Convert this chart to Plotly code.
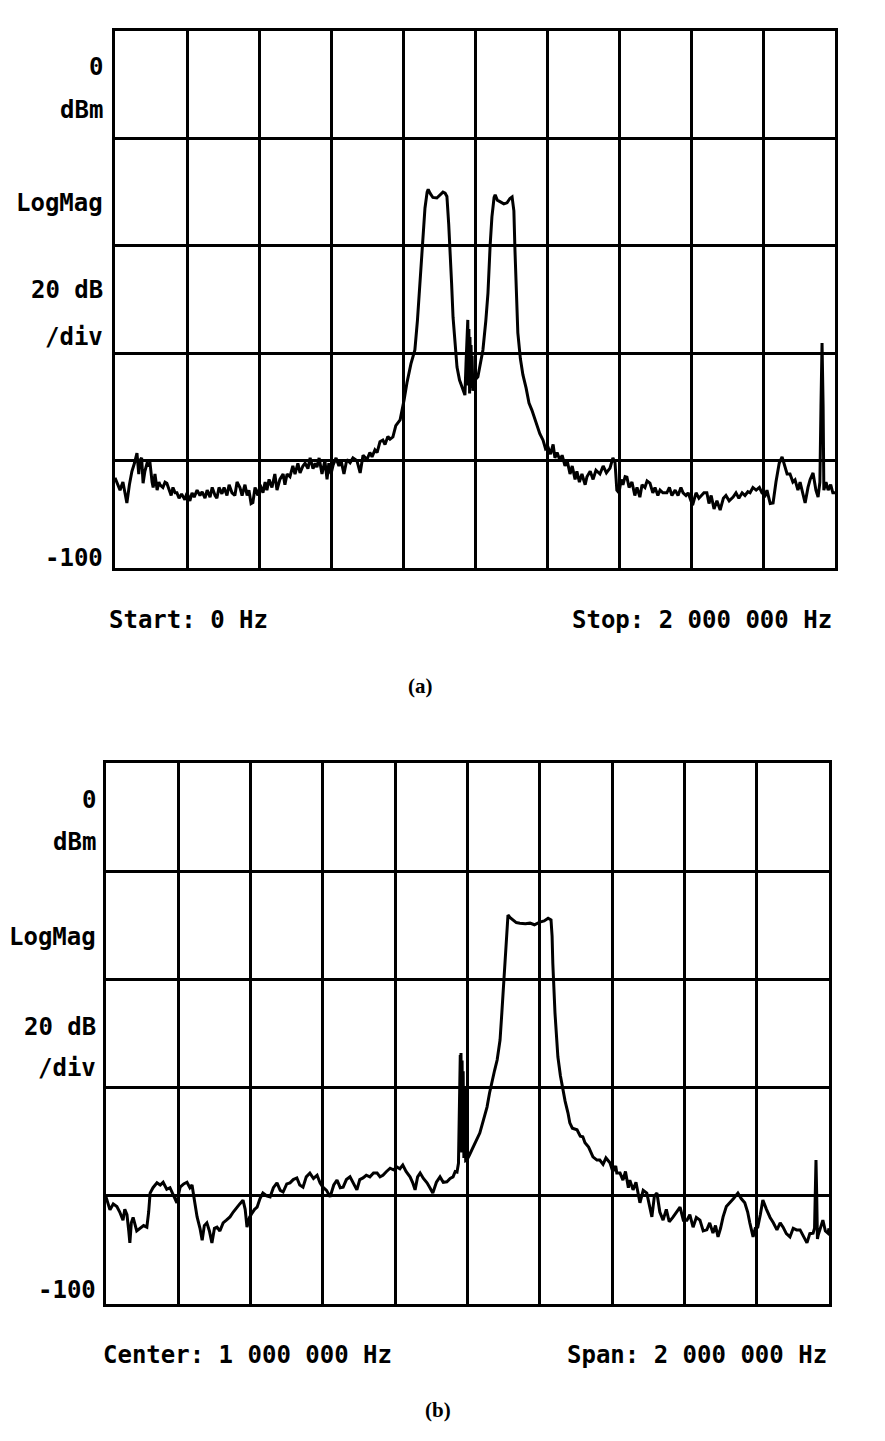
import plotly.graph_objects as go

# ---------------- Data (frequency in kHz, level in dBm) ----------------
freq_a = [0, 8, 14, 22, 33, 40, 47, 54, 61, 66, 69, 74, 78, 83, 89, 94, 97, 103, 106, 111,
          117, 122, 125, 133, 139, 144, 150, 156, 161, 167, 172, 178, 185, 194, 200, 208, 214,
          220, 228, 236, 242, 250, 256, 264, 270, 278, 283, 289, 297, 303, 311, 317, 325, 333,
          339, 347, 353, 361, 367, 372, 378, 383, 389, 397, 403, 411, 417, 422, 428, 436, 444,
          450, 458, 467, 472, 478, 486, 494, 500, 508, 514, 522, 528, 536, 542, 550, 556, 561,
          567, 575, 583, 589, 594, 600, 606, 614, 622, 628, 636, 644, 653, 661, 672, 681, 689,
          700, 708, 714, 722, 728, 736, 744, 750, 758, 764, 772, 780, 792, 803,
          811, 822, 833, 840, 847, 852, 856, 861, 867, 870, 875, 883, 894, 903, 911, 917, 922,
          927, 931, 935, 939, 944, 950, 957, 964, 972,
          975, 978, 980, 981, 983, 985, 986, 988, 989, 991, 992, 994, 997, 1000,
          1008, 1015, 1022, 1030, 1036, 1042, 1047, 1053, 1056, 1062, 1069, 1080, 1089, 1097,
          1103, 1108, 1111, 1116, 1119, 1126, 1133, 1142, 1150, 1158, 1165, 1172, 1180, 1189,
          1196, 1203, 1210, 1217, 1222, 1228, 1236, 1242, 1250, 1256, 1264, 1270, 1278, 1283,
          1290, 1297, 1306, 1311, 1320, 1328, 1336, 1347, 1356, 1365, 1375, 1383, 1389, 1394,
          1400, 1406, 1411, 1417, 1422, 1428, 1436, 1444, 1450, 1458, 1464, 1472, 1478, 1486,
          1494, 1500, 1508, 1514, 1522, 1533, 1540, 1547, 1556, 1564, 1572, 1578, 1586, 1592,
          1600, 1606, 1614, 1622, 1630, 1636, 1644, 1650, 1656, 1664, 1672, 1681, 1690, 1697,
          1706, 1717, 1725, 1733, 1742, 1750, 1758, 1764, 1772, 1781, 1790, 1797, 1806, 1811,
          1820, 1828, 1836, 1845, 1853, 1860, 1867, 1875, 1883, 1889, 1897, 1903, 1911, 1917,
          1925, 1931, 1939, 1947, 1953, 1958, 1961, 1964, 1967, 1969, 1975, 1981, 1988, 1994, 2000]
level_a = [-83.2, -84.5, -85.5, -84.0, -87.9, -84.5, -82.0, -80.5, -78.6, -82.5, -80.0, -79.5,
           -84.2, -82.0, -80.5, -80.8, -80.3, -84.0, -85.0, -82.5,
           -85.5, -84.0, -84.5, -85.0, -84.0, -84.2, -85.5, -86.5, -85.0, -86.0, -86.0, -87.0,
           -86.2, -87.3, -86.0, -87.5, -86.0,
           -86.8, -85.5, -86.5, -85.8, -87.0, -85.5, -86.8, -85.0, -86.5, -87.0, -85.0, -86.2,
           -85.0, -86.5, -84.5, -86.0, -86.5,
           -84.0, -85.0, -86.5, -84.5, -86.5, -85.5, -88.0, -87.8, -85.0, -86.5, -84.5, -86.0,
           -84.0, -85.5, -83.5, -85.0, -82.5,
           -85.5, -83.5, -82.5, -84.5, -82.5, -83.0, -81.0, -82.5, -80.5, -82.3, -81.0, -80.5,
           -81.5, -79.5, -81.5, -80.5, -81.2,
           -79.5, -82.5, -80.0, -83.5, -80.5, -82.5, -80.8, -79.5, -81.0, -80.0, -82.5, -79.8,
           -80.4, -79.5, -80.0, -82.3, -79.0,
           -79.8, -78.5, -79.3, -78.0, -78.5, -76.5, -76.2, -77.0, -75.5, -76.0, -75.6, -73.5,
           -72.4, -68.7,
           -65.5, -62.0, -59.4, -54.0, -46.9, -42.0, -37.6, -33.0, -30.0, -29.5, -30.2, -31.0,
           -31.1, -30.5, -30.0, -30.2, -30.8,
           -36.0, -40.8, -47.0, -53.3, -58.5, -62.6, -65.0, -66.3, -67.8,
           -62.0, -56.0, -53.8, -66.0, -55.5, -67.5, -57.0, -66.5, -58.5, -65.5, -60.5, -67.0,
           -65.5, -65.0,
           -64.4, -62.0, -59.4, -54.0, -48.8, -40.0, -34.6, -31.0, -30.5, -31.5, -31.8, -32.2,
           -32.0, -31.2,
           -30.9, -33.5, -40.8, -50.0, -56.2, -61.0, -64.0, -66.5, -69.3, -70.6, -72.0, -73.0,
           -75.0, -76.2,
           -77.8, -77.5, -78.8, -77.0, -79.5, -78.5, -80.0, -79.0, -81.0, -80.0, -82.5, -81.0,
           -83.5, -82.0,
           -84.0, -82.5, -84.5, -83.0, -82.0, -83.5, -81.8, -82.5, -81.0, -82.3, -81.4, -79.5,
           -80.4, -85.5,
           -86.0, -83.5, -84.5, -83.0, -83.1, -85.0, -84.0, -86.5, -85.0, -86.8, -84.5, -85.0,
           -83.8, -84.2,
           -86.0, -85.0, -86.5, -85.5, -86.0, -86.0, -85.0, -86.5, -85.5, -86.5, -85.0, -86.0,
           -86.5, -86.0,
           -87.5, -87.9, -86.0, -87.0, -86.5, -86.0, -86.0, -88.0, -86.5, -89.0, -87.5, -89.2,
           -87.0, -86.5,
           -87.5, -86.8, -86.0, -87.0, -86.0, -86.5, -85.8, -86.0, -85.0, -85.5, -85.0, -86.0,
           -86.5, -85.5,
           -88.0, -87.9, -84.0, -80.5, -79.3, -81.0, -82.5, -82.5, -84.0, -83.6, -85.5, -84.0,
           -86.5, -87.9,
           -85.0, -83.5, -82.3, -85.5, -86.8, -84.0, -70.0, -58.1, -70.0, -85.5, -84.0, -85.5,
           -84.5, -86.0, -86.0]

freq_b = [0, 11, 20, 30, 38, 47, 52, 58, 63, 66, 70, 75, 85, 94, 104, 113, 118, 122, 130, 141,
          150, 158, 168, 177, 186, 196, 200, 205, 215, 224, 232, 238, 245, 252, 260, 266, 272,
          279, 286, 293, 300, 307, 315, 324, 333, 343, 352, 362, 370, 379, 385, 390, 397, 404,
          411, 418, 426, 434, 444, 454, 463, 473, 482, 490, 500, 509, 518, 528, 536, 545, 554,
          564, 574, 584, 592, 600, 610, 620, 630, 639, 648, 656, 665, 675, 685, 694, 702, 711,
          720, 730, 740, 750, 758, 766, 776, 786, 795, 805, 813, 821, 830, 841, 848, 855, 862,
          869, 878, 888, 896, 904, 914, 924, 933, 943, 952, 960, 966, 971, 975,
          978, 980, 981, 982, 984, 985, 987, 988, 990, 992, 995, 998,
          1005, 1015, 1025, 1034, 1044, 1054, 1061, 1068, 1075, 1082, 1090, 1095, 1101, 1106,
          1110, 1112, 1118, 1126, 1135, 1145, 1160, 1173, 1185, 1200, 1212, 1223, 1231, 1234,
          1236, 1242, 1250, 1257, 1264, 1270, 1278, 1283, 1290, 1303, 1312, 1319, 1325, 1335,
          1347, 1358, 1366, 1375, 1383, 1394, 1402, 1410, 1413, 1422, 1430, 1437, 1445, 1449,
          1458, 1466, 1477, 1486, 1496, 1503, 1510, 1517, 1524, 1532, 1541, 1550, 1558, 1568,
          1578, 1588, 1597, 1607, 1615, 1624, 1633, 1643, 1652, 1662, 1670, 1679, 1686, 1693,
          1700, 1707, 1716, 1726, 1736, 1748, 1757, 1767, 1775, 1781, 1790, 1796, 1803, 1810,
          1817, 1827, 1837, 1846, 1856, 1865, 1873, 1882, 1892, 1901, 1910, 1920, 1930, 1939,
          1947, 1956, 1960, 1962, 1964, 1966, 1968, 1970, 1976, 1983, 1990, 1997, 2000]
level_b = [-80.2, -82.6, -81.5, -82.0, -83.0, -84.5, -82.5, -83.5, -86.5, -88.7, -85.0, -84.0,
           -86.5, -86.0, -85.5, -85.8, -83.0, -79.5, -78.5, -77.6,
           -78.0, -77.5, -78.8, -78.5, -80.0, -81.3, -80.0, -78.4, -77.8, -77.5, -78.5, -78.0,
           -81.0, -83.9, -86.0, -88.2, -85.5,
           -85.0, -86.5, -88.7, -86.0, -85.8, -86.5, -85.0, -84.5, -83.9, -83.0, -82.1, -81.5,
           -80.8, -82.5, -85.8, -84.0, -83.2,
           -82.5, -82.1, -80.5, -79.5, -80.0, -80.2, -78.5, -77.6, -79.0, -79.3, -77.8, -77.6,
           -77.0, -76.7, -78.0, -78.4, -76.5,
           -75.8, -76.8, -76.2, -77.6, -78.4, -79.0, -80.2, -78.0, -77.1, -78.5, -78.4, -77.0,
           -76.5, -77.8, -78.9, -77.0, -76.7,
           -76.2, -76.5, -75.8, -75.8, -76.5, -76.2, -75.5, -74.9, -75.2, -74.7, -75.0, -74.3,
           -75.5, -76.5, -77.5, -78.9, -76.5,
           -75.8, -76.8, -77.6, -78.5, -79.5, -77.5, -76.5, -77.5, -77.4, -76.8, -76.5, -75.5,
           -75.6, -74.0,
           -62.0, -54.0, -70.0, -53.6, -72.0, -55.0, -71.5, -57.0, -73.0, -60.0, -73.5, -73.4,
           -72.5, -71.0, -69.8, -68.4, -66.0, -63.6, -61.0, -58.6, -56.8, -54.9, -51.2, -46.2,
           -40.1, -34.0,
           -29.5, -28.1, -28.6, -29.0, -29.5, -29.6, -29.7, -29.6, -29.9, -29.4, -29.2, -28.7,
           -29.0, -32.0,
           -37.0, -46.2, -54.3, -57.8, -60.4, -62.5, -64.7, -66.5, -67.5, -67.8, -69.0, -69.1,
           -70.2, -71.0,
           -72.8, -73.4, -73.4, -74.2, -73.0, -73.9, -75.5, -74.5, -75.8, -75.8, -77.1, -75.5,
           -78.5, -77.1,
           -78.9, -77.5, -81.3, -79.0, -79.5, -82.0, -83.9, -80.0, -79.5, -83.0, -84.5, -82.5,
           -84.8, -84.0,
           -83.0, -82.1, -84.5, -84.5, -83.5, -85.8, -84.0, -84.5, -86.5, -86.3, -85.0, -86.9,
           -85.5, -87.6,
           -86.0, -83.9, -82.0, -81.3, -80.5, -79.5, -80.5, -81.3, -83.0, -85.0, -87.6, -86.0,
           -85.8, -83.5,
           -80.8, -82.5, -84.0, -85.0, -86.3, -85.0, -85.8, -87.0, -87.6, -86.0, -86.3, -86.3,
           -87.5, -88.7,
           -87.0, -86.9, -86.0, -80.0, -73.4, -80.0, -88.0, -87.3, -86.0, -84.5, -86.5, -86.9,
           -86.0]

y_labels = ["0", "dBm", "LogMag", "20 dB", "/div", "-100"]
labels_a = ["Start: 0 Hz", "Stop: 2 000 000 Hz", "(a)"]
labels_b = ["Center: 1 000 000 Hz", "Span: 2 000 000 Hz", "(b)"]

W, H = 885, 1441
def px(x):
    return x / W
def py(y):
    return 1 - y / H

fig = go.Figure()
fig.add_trace(go.Scatter(x=freq_a, y=level_a, mode="lines",
                         line=dict(color="black", width=3), xaxis="x", yaxis="y",
                         showlegend=False, hoverinfo="skip"))
fig.add_trace(go.Scatter(x=freq_b, y=level_b, mode="lines",
                         line=dict(color="black", width=3), xaxis="x2", yaxis="y2",
                         showlegend=False, hoverinfo="skip"))

axis_common = dict(showgrid=True, gridcolor="black", gridwidth=3, zeroline=False,
                   showline=True, linecolor="black", linewidth=3, mirror=True,
                   showticklabels=False, ticks="", fixedrange=True)

fig.update_layout(
    width=W, height=H,
    margin=dict(l=0, r=0, t=0, b=0),
    paper_bgcolor="white", plot_bgcolor="white",
    xaxis=dict(domain=[px(115), px(835)], range=[0, 2000], dtick=200, anchor="y", **axis_common),
    yaxis=dict(domain=[py(568), py(31)], range=[-100, 0], dtick=20, anchor="x", **axis_common),
    xaxis2=dict(domain=[px(106), px(829)], range=[0, 2000], dtick=200, anchor="y2", **axis_common),
    yaxis2=dict(domain=[py(1304), py(763)], range=[-100, 0], dtick=20, anchor="x2", **axis_common),
)

mono = dict(family="DejaVu Sans Mono", size=24, color="black", weight="bold")
serif = dict(family="Liberation Serif", size=21, color="black", weight="bold")

ya_pos = [67, 110, 203, 290, 337, 558]
yb_pos = [800, 842, 937, 1027, 1068, 1290]
ann = []
for t, y in zip(y_labels, ya_pos):
    ann.append(dict(text=t, x=px(105), y=py(y), xref="paper", yref="paper",
                    xanchor="right", yanchor="middle", showarrow=False, font=mono))
for t, y in zip(y_labels, yb_pos):
    ann.append(dict(text=t, x=px(98), y=py(y), xref="paper", yref="paper",
                    xanchor="right", yanchor="middle", showarrow=False, font=mono))

ann.append(dict(text=labels_a[0], x=px(107), y=py(620), xref="paper", yref="paper",
                xanchor="left", yanchor="middle", showarrow=False, font=mono))
ann.append(dict(text=labels_a[1], x=px(834), y=py(620), xref="paper", yref="paper",
                xanchor="right", yanchor="middle", showarrow=False, font=mono))
ann.append(dict(text=labels_a[2], x=px(420), y=py(686), xref="paper", yref="paper",
                xanchor="center", yanchor="middle", showarrow=False, font=serif))
ann.append(dict(text=labels_b[0], x=px(101), y=py(1355), xref="paper", yref="paper",
                xanchor="left", yanchor="middle", showarrow=False, font=mono))
ann.append(dict(text=labels_b[1], x=px(829), y=py(1355), xref="paper", yref="paper",
                xanchor="right", yanchor="middle", showarrow=False, font=mono))
ann.append(dict(text=labels_b[2], x=px(438), y=py(1410), xref="paper", yref="paper",
                xanchor="center", yanchor="middle", showarrow=False, font=serif))

fig.update_layout(annotations=ann)
fig.write_html("out.html")
